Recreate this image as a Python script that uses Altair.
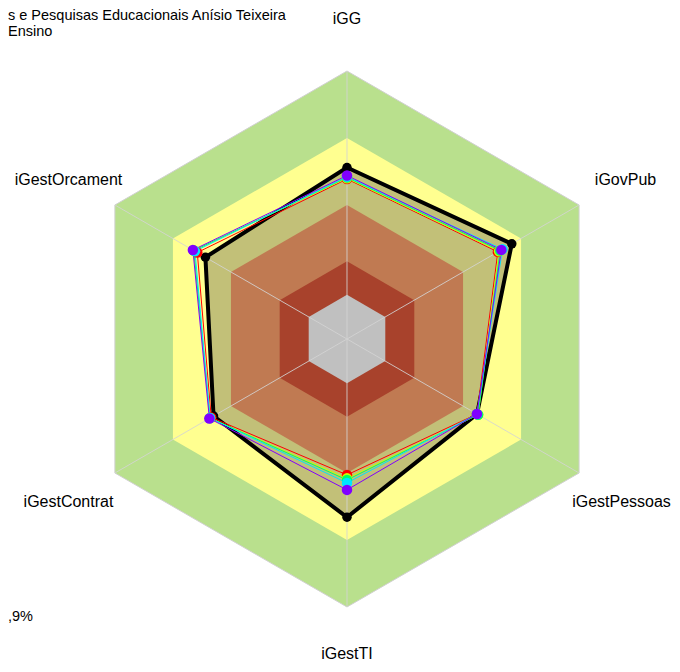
import altair as alt
import pandas as pd

# ---------------- data ----------------
axis_names = ["iGG", "iGovPub", "iGestPessoas", "iGestTI", "iGestContrat", "iGestOrcament"]

band_limits = [1.0, 0.75, 0.5, 0.29, 0.165]
band_colors = ["#B9E08D", "#FFFF90", "#C07A52", "#A8422C", "#C0C0C0"]

series_names = ["Instituição", "Série A", "Série B", "Série C", "Série D", "Série E"]
series_colors = ["#000000", "#FF0000", "#CCFF00", "#00FF66", "#00E5FF", "#8000FF"]

v_inst = [0.640, 0.710, 0.560, 0.665, 0.575, 0.610]
v_a = [0.597, 0.650, 0.560, 0.507, 0.585, 0.645]
v_b = [0.600, 0.655, 0.565, 0.520, 0.590, 0.660]
v_c = [0.603, 0.660, 0.565, 0.526, 0.590, 0.660]
v_d = [0.606, 0.670, 0.560, 0.537, 0.590, 0.655]
v_e = [0.610, 0.665, 0.560, 0.563, 0.593, 0.664]

# visible fragments of the corner notes (the source image cuts them at the left edge)
note_lines = ["s e Pesquisas Educacionais Anísio Teixeira", "Ensino"]
note_value = ",9%"

# ---------------- tables ----------------
series_values = [v_inst, v_a, v_b, v_c, v_d, v_e]
rows = []
for s, vals in zip(series_names, series_values):
    for k, v in enumerate(vals):
        rows.append({"series": s, "k": k, "r": v, "axis": axis_names[k]})
series_df = pd.DataFrame(rows)

band_rows = []
for b, lim in enumerate(band_limits):
    for k in range(len(axis_names)):
        band_rows.append({"band": b, "k": k, "r": lim})
band_df = pd.DataFrame(band_rows)

spoke_df = pd.DataFrame({"k": list(range(len(axis_names))), "r": [band_limits[0]] * len(axis_names)})
label_df = pd.DataFrame({"k": list(range(len(axis_names))), "axis": axis_names, "r": [1.2] * len(axis_names)})

W, H = 664, 656
xs = alt.Scale(domain=[-1.2649, 1.2127], nice=False, zero=False)
ys = alt.Scale(domain=[-1.2127, 1.2351], nice=False, zero=False)
FONT = "Liberation Sans"
FS = 16
FS_NOTE = 14.5


def polar(ch):
    return ch.transform_calculate(
        ang="PI/2 - datum.k * PI/3",
    ).transform_calculate(
        x="datum.r * cos(datum.ang)",
        y="datum.r * sin(datum.ang)",
    )


def XY():
    return dict(
        x=alt.X("x:Q", scale=xs, axis=None),
        y=alt.Y("y:Q", scale=ys, axis=None),
    )


layers = []

# bands (outer first); after yellow band, draw institution fill
for b, (lim, col) in enumerate(zip(band_limits, band_colors)):
    sub = band_df[band_df["band"] == b]
    stroke_kw = dict(stroke="#D0D0D0", strokeWidth=1) if b == 0 else dict(strokeWidth=0)
    layers.append(
        polar(alt.Chart(sub)).mark_line(fill=col, interpolate="linear-closed", **stroke_kw)
        .encode(order=alt.Order("k:Q"), **XY())
    )
    if b == 1:
        inst = series_df[series_df["series"] == series_names[0]]
        layers.append(
            polar(alt.Chart(inst)).mark_line(fill="#C2C078", interpolate="linear-closed", strokeWidth=0)
            .encode(order=alt.Order("k:Q"), **XY())
        )

# spokes
layers.append(
    polar(alt.Chart(spoke_df)).transform_calculate(x0="0", y0="0")
    .mark_rule(color="#D3D3D3", strokeWidth=1, opacity=0.85)
    .encode(
        x=alt.X("x0:Q", scale=xs, axis=None),
        y=alt.Y("y0:Q", scale=ys, axis=None),
        x2="x:Q",
        y2="y:Q",
    )
)

# institution line & dots
inst = series_df[series_df["series"] == series_names[0]]
layers.append(
    polar(alt.Chart(inst)).mark_line(color="#000000", strokeWidth=4, interpolate="linear-closed")
    .encode(order=alt.Order("k:Q"), **XY())
)
layers.append(
    polar(alt.Chart(inst)).mark_circle(color="#000000", size=90, opacity=1)
    .encode(**XY())
)

# other series
others = series_df[series_df["series"] != series_names[0]]
cscale = alt.Scale(domain=series_names[1:], range=series_colors[1:])
layers.append(
    polar(alt.Chart(others)).mark_line(strokeWidth=1, interpolate="linear-closed")
    .encode(
        color=alt.Color("series:N", scale=cscale, legend=None),
        detail="series:N",
        order=alt.Order("k:Q"),
        **XY(),
    )
)
layers.append(
    polar(alt.Chart(others)).mark_circle(size=110, opacity=1)
    .encode(
        color=alt.Color("series:N", scale=cscale, legend=None),
        **XY(),
    )
)

# axis labels (the two near the page edges nudged inward so they stay visible)
text_kw = dict(font=FONT, fontSize=FS, color="#000000", align="center", baseline="middle")
layers.append(
    polar(alt.Chart(label_df)).transform_filter("datum.k != 2 && datum.k != 3")
    .mark_text(dy=2, **text_kw).encode(text="axis:N", **XY())
)
layers.append(
    polar(alt.Chart(label_df)).transform_filter("datum.k == 2")
    .mark_text(dy=2, dx=-4, **text_kw).encode(text="axis:N", **XY())
)
layers.append(
    polar(alt.Chart(label_df)).transform_filter("datum.k == 3")
    .mark_text(dy=-7, **text_kw).encode(text="axis:N", **XY())
)

# corner notes
note_df = pd.DataFrame({"t": note_lines, "i": [0, 1]})
left_kw = dict(font=FONT, fontSize=FS_NOTE, color="#000000", align="left", baseline="middle")
layers.append(
    alt.Chart(note_df).transform_filter("datum.i == 0").mark_text(**left_kw)
    .encode(text="t:N", x=alt.value(0), y=alt.value(8))
)
layers.append(
    alt.Chart(note_df).transform_filter("datum.i == 1").mark_text(**left_kw)
    .encode(text="t:N", x=alt.value(0), y=alt.value(24))
)
val_df = pd.DataFrame({"t": [note_value]})
layers.append(
    alt.Chart(val_df).mark_text(**left_kw)
    .encode(text="t:N", x=alt.value(0), y=alt.value(609))
)

chart = alt.layer(*layers).properties(
    width=W,
    height=H,
    autosize=alt.AutoSizeParams(type="none"),
    padding=0,
).configure_view(strokeWidth=0)

chart.save("out.html", embed_options={"renderer": "svg", "actions": False})
